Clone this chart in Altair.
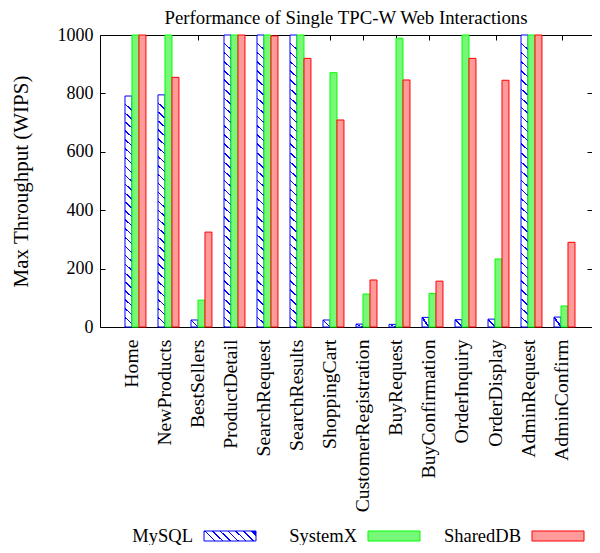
import altair as alt
import pandas as pd

categories = ["Home", "NewProducts", "BestSellers", "ProductDetail", "SearchRequest",
              "SearchResults", "ShoppingCart", "CustomerRegistration", "BuyRequest",
              "BuyConfirmation", "OrderInquiry", "OrderDisplay", "AdminRequest", "AdminConfirm"]
series_names = ["MySQL", "SystemX", "SharedDB"]
mysql = [791, 795, 24, 1000, 1000, 1000, 24, 10, 9, 33, 25, 27, 1000, 34]
systemx = [1000, 1000, 92, 1000, 1000, 1000, 871, 113, 989, 115, 1000, 233, 1000, 72]
shareddb = [1000, 855, 325, 1000, 997, 920, 709, 161, 846, 157, 920, 845, 1000, 290]
y_ticks = [0, 200, 400, 600, 800, 1000]

rows = []
for name, vals in zip(series_names, [mysql, systemx, shareddb]):
    for c, v in zip(categories, vals):
        rows.append({"category": c, "series": name, "value": v})
df = pd.DataFrame(rows)
legend_df = pd.DataFrame({"series": series_names})

FONT = "Liberation Serif"
BLUE, GREEN, RED = "#0000ff", "#00ff00", "#ff0000"
GREEN_FILL, RED_FILL = "#78f878", "#ff9a9a"
W, H = 492, 292
BAR_W = 7.0


def stripes(h, spacing=9.0, slope=0.9, frac=0.16):
    n = max(1, round(h / spacing))
    a = slope * BAR_W / h
    stops = []
    for i in range(n):
        s0, s1, s2 = i / n, (i + 1 - frac) / n, (i + 1) / n
        stops += [{"offset": s0, "color": "#ffffff"}, {"offset": s1, "color": "#ffffff"},
                  {"offset": s1, "color": BLUE}, {"offset": s2, "color": BLUE}]
    return {"gradient": "linear", "x1": a, "y1": 0, "x2": 0, "y2": 1, "stops": stops}


small_stripe = {"gradient": "linear", "x1": 0, "y1": 1, "x2": 1, "y2": 0,
                "stops": [{"offset": 0, "color": "#ffffff"}, {"offset": 0.43, "color": "#ffffff"},
                          {"offset": 0.43, "color": BLUE}, {"offset": 0.57, "color": BLUE},
                          {"offset": 0.57, "color": "#ffffff"}, {"offset": 1, "color": "#ffffff"}]}

# legend swatch (52 x 10 px): "\" lines at 45 degrees
legend_stripe = {"gradient": "linear", "x1": 0, "y1": 0.6, "x2": 1, "y2": 0.4, "stops": []}
_n = 7
for i in range(_n):
    s0, s1, s2 = i / _n, (i + 0.8) / _n, (i + 1) / _n
    legend_stripe["stops"] += [{"offset": s0, "color": "#ffffff"}, {"offset": s1, "color": "#ffffff"},
                               {"offset": s1, "color": BLUE}, {"offset": s2, "color": BLUE}]

fill_def = {
    "condition": [
        {"test": "datum.series === 'MySQL' && datum.value >= 900", "value": stripes(292)},
        {"test": "datum.series === 'MySQL' && datum.value >= 500", "value": stripes(231)},
        {"test": "datum.series === 'MySQL'", "value": small_stripe},
        {"test": "datum.series === 'SystemX'", "value": GREEN_FILL},
    ],
    "value": RED_FILL,
}

xscale = alt.Scale(paddingInner=0.365, paddingOuter=0.6365, align=0.595)
yscale = alt.Scale(domain=[0, 1000], nice=False)
LAB_SHIFT = -3


def layer(xaxis, yaxis, visible):
    if visible:
        m = alt.Chart(df).mark_bar(strokeWidth=1)
    else:
        m = alt.Chart(df).mark_bar(opacity=0)
    enc = dict(
        x=alt.X("category:N", sort=categories, scale=xscale, axis=xaxis),
        xOffset=alt.XOffset("series:N", sort=series_names,
                            scale=alt.Scale(paddingInner=0, paddingOuter=0)),
        y=alt.Y("value:Q", scale=yscale, axis=yaxis),
    )
    if visible:
        enc["fill"] = fill_def
        enc["stroke"] = alt.Stroke("series:N", sort=series_names,
                                   scale=alt.Scale(domain=series_names, range=[BLUE, GREEN, RED]),
                                   legend=None)
    return m.encode(**enc)


def taxis(orient, offset, **kw):
    d = dict(labels=False, domain=False, grid=False, title=None, ticks=True,
             tickSize=5, tickColor="#000000", tickWidth=1, orient=orient, offset=offset)
    d.update(kw)
    return alt.Axis(**d)


main_x_axis = alt.Axis(orient="bottom", title=None, ticks=False, domain=False, grid=False,
                       labelAngle=270, labelPadding=12, labelFont=FONT, labelFontSize=19.7,
                       labelColor="#000000", labelAlign="right", labelBaseline="middle",
                       labelOffset=LAB_SHIFT)
main_y_axis = alt.Axis(orient="left", title="Max Throughput (WIPS)", ticks=False, domain=False,
                       grid=False, values=y_ticks, format="d", labelPadding=7, labelFont=FONT,
                       labelFontSize=18, labelColor="#000000", titleFont=FONT, titleFontSize=21,
                       titleFontWeight="normal", titleColor="#000000", titlePadding=26)

ticks1 = layer(taxis("bottom", -H, tickOffset=LAB_SHIFT), taxis("right", -W, values=y_ticks), False)
ticks2 = layer(taxis("top", -H, tickOffset=LAB_SHIFT), taxis("left", -W, values=y_ticks), False)
bars = layer(main_x_axis, main_y_axis, True)

leg_scale = alt.Scale(type="band", domain=series_names, range=[104, 484],
                      paddingInner=0.683, paddingOuter=0)
leg_text = alt.Chart(legend_df).mark_text(
    font=FONT, fontSize=18.5, align="right", baseline="middle", dx=-37, color="#000000"
).encode(
    x=alt.X("series:N", sort=series_names, scale=leg_scale, axis=None),
    y=alt.value(501),
    text="series:N",
)
leg_rect = alt.Chart(legend_df).mark_rect(strokeWidth=1).encode(
    x=alt.X("series:N", sort=series_names, scale=leg_scale, axis=None),
    y=alt.value(496),
    y2=alt.value(506),
    fill={
        "condition": [
            {"test": "datum.series === 'MySQL'", "value": legend_stripe},
            {"test": "datum.series === 'SystemX'", "value": GREEN_FILL},
        ],
        "value": RED_FILL,
    },
    stroke=alt.Stroke("series:N", sort=series_names,
                      scale=alt.Scale(domain=series_names, range=[BLUE, GREEN, RED]),
                      legend=None),
)

chart = alt.layer(ticks1, ticks2, bars, leg_rect, leg_text).resolve_scale(
    x="independent", stroke="independent"
).resolve_axis(x="independent", y="independent").properties(
    width=W, height=H,
    title=alt.TitleParams("Performance of Single TPC-W Web Interactions", font=FONT, fontSize=18.8,
                          fontWeight="normal", color="#000000", offset=9, dy=11, anchor="middle",
                          frame="group"),
    padding={"left": 92, "top": 27, "right": 0, "bottom": 218},
    autosize=alt.AutoSizeParams(type="none"),
).configure_view(stroke="#000000", strokeWidth=1)

chart.save("out.html", embed_options={"renderer": "svg", "actions": False})
